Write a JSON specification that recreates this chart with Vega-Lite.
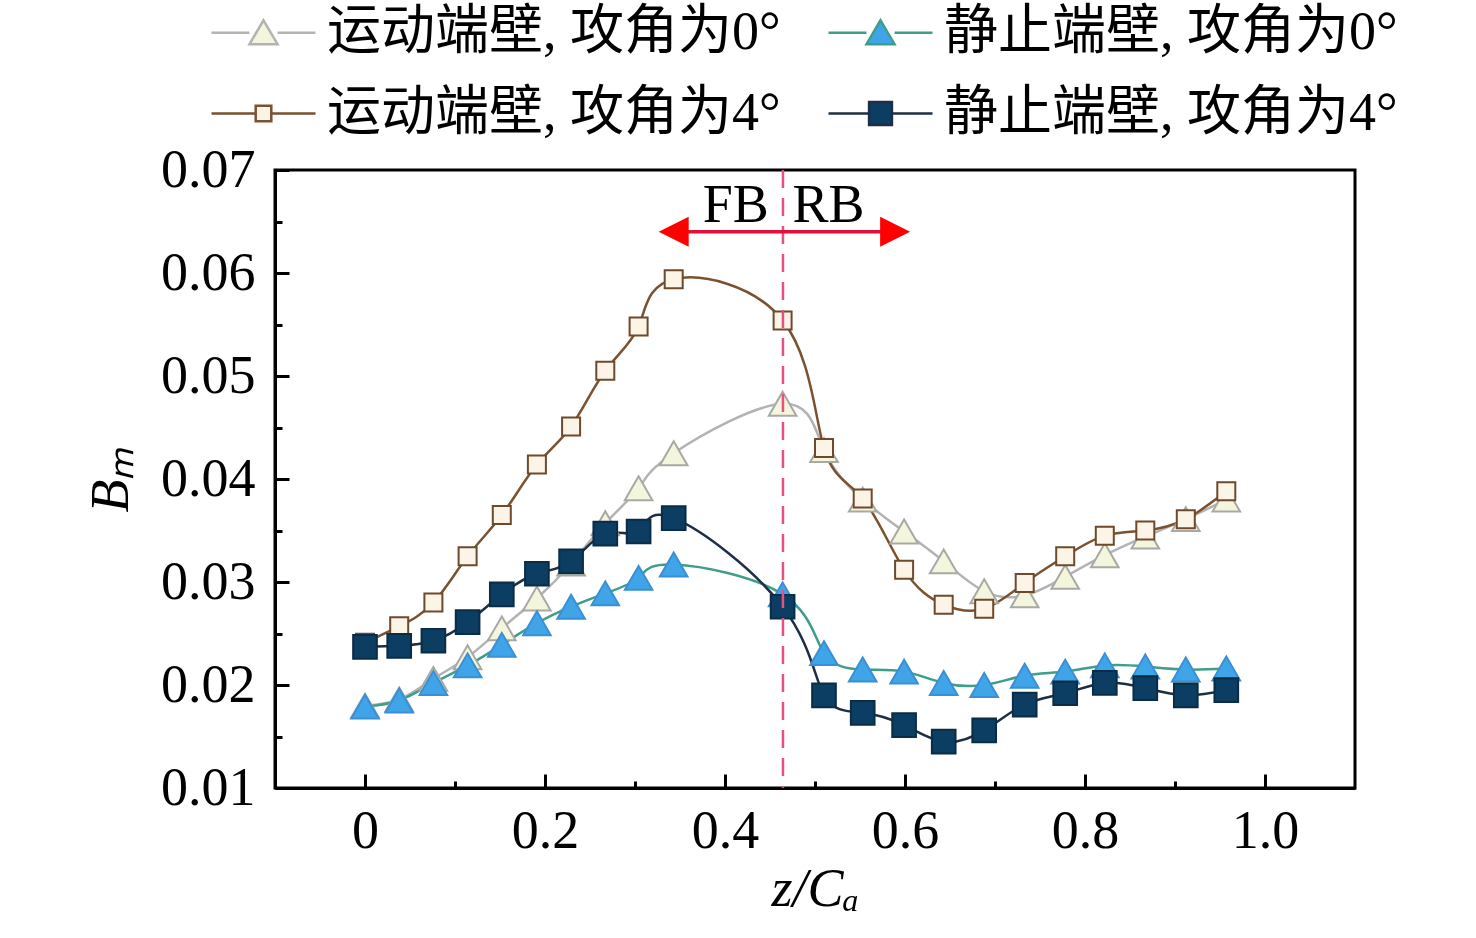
{
  "$schema": "https://vega.github.io/schema/vega-lite/v6.json",
  "width": 1080,
  "height": 618,
  "autosize": "none",
  "padding": {"left": 275, "top": 170, "right": 121, "bottom": 150},
  "background": "#ffffff",
  "datasets": {
    "pts": [
      {"s": "运动端壁, 攻角为0°", "x": 0, "y": 0.018},
      {"s": "运动端壁, 攻角为0°", "x": 0.038, "y": 0.0186},
      {"s": "运动端壁, 攻角为0°", "x": 0.076, "y": 0.0206},
      {"s": "运动端壁, 攻角为0°", "x": 0.114, "y": 0.0227},
      {"s": "运动端壁, 攻角为0°", "x": 0.152, "y": 0.0255},
      {"s": "运动端壁, 攻角为0°", "x": 0.191, "y": 0.0284},
      {"s": "运动端壁, 攻角为0°", "x": 0.229, "y": 0.0318},
      {"s": "运动端壁, 攻角为0°", "x": 0.267, "y": 0.0357},
      {"s": "运动端壁, 攻角为0°", "x": 0.304, "y": 0.0391},
      {"s": "运动端壁, 攻角为0°", "x": 0.343, "y": 0.0425},
      {"s": "运动端壁, 攻角为0°", "x": 0.464, "y": 0.0473},
      {"s": "运动端壁, 攻角为0°", "x": 0.51, "y": 0.0428},
      {"s": "运动端壁, 攻角为0°", "x": 0.553, "y": 0.038},
      {"s": "运动端壁, 攻角为0°", "x": 0.599, "y": 0.0349},
      {"s": "运动端壁, 攻角为0°", "x": 0.643, "y": 0.032},
      {"s": "运动端壁, 攻角为0°", "x": 0.688, "y": 0.0291},
      {"s": "运动端壁, 攻角为0°", "x": 0.733, "y": 0.0287},
      {"s": "运动端壁, 攻角为0°", "x": 0.778, "y": 0.0305},
      {"s": "运动端壁, 攻角为0°", "x": 0.822, "y": 0.0326},
      {"s": "运动端壁, 攻角为0°", "x": 0.867, "y": 0.0344},
      {"s": "运动端壁, 攻角为0°", "x": 0.912, "y": 0.0361},
      {"s": "运动端壁, 攻角为0°", "x": 0.957, "y": 0.038},
      {"s": "运动端壁, 攻角为4°", "x": 0, "y": 0.0241},
      {"s": "运动端壁, 攻角为4°", "x": 0.038, "y": 0.0257},
      {"s": "运动端壁, 攻角为4°", "x": 0.076, "y": 0.028},
      {"s": "运动端壁, 攻角为4°", "x": 0.114, "y": 0.0325},
      {"s": "运动端壁, 攻角为4°", "x": 0.152, "y": 0.0365},
      {"s": "运动端壁, 攻角为4°", "x": 0.191, "y": 0.0414},
      {"s": "运动端壁, 攻角为4°", "x": 0.229, "y": 0.0451},
      {"s": "运动端壁, 攻角为4°", "x": 0.267, "y": 0.0505},
      {"s": "运动端壁, 攻角为4°", "x": 0.304, "y": 0.0548},
      {"s": "运动端壁, 攻角为4°", "x": 0.343, "y": 0.0594},
      {"s": "运动端壁, 攻角为4°", "x": 0.464, "y": 0.0554},
      {"s": "运动端壁, 攻角为4°", "x": 0.51, "y": 0.043},
      {"s": "运动端壁, 攻角为4°", "x": 0.553, "y": 0.0381},
      {"s": "运动端壁, 攻角为4°", "x": 0.599, "y": 0.0312},
      {"s": "运动端壁, 攻角为4°", "x": 0.643, "y": 0.0278},
      {"s": "运动端壁, 攻角为4°", "x": 0.688, "y": 0.0274},
      {"s": "运动端壁, 攻角为4°", "x": 0.733, "y": 0.0299},
      {"s": "运动端壁, 攻角为4°", "x": 0.778, "y": 0.0325},
      {"s": "运动端壁, 攻角为4°", "x": 0.822, "y": 0.0345},
      {"s": "运动端壁, 攻角为4°", "x": 0.867, "y": 0.035},
      {"s": "运动端壁, 攻角为4°", "x": 0.912, "y": 0.0361},
      {"s": "运动端壁, 攻角为4°", "x": 0.957, "y": 0.0388},
      {"s": "静止端壁, 攻角为0°", "x": 0, "y": 0.0179},
      {"s": "静止端壁, 攻角为0°", "x": 0.038, "y": 0.0185},
      {"s": "静止端壁, 攻角为0°", "x": 0.076, "y": 0.0202},
      {"s": "静止端壁, 攻角为0°", "x": 0.114, "y": 0.0219},
      {"s": "静止端壁, 攻角为0°", "x": 0.152, "y": 0.0239},
      {"s": "静止端壁, 攻角为0°", "x": 0.191, "y": 0.026},
      {"s": "静止端壁, 攻角为0°", "x": 0.229, "y": 0.0276},
      {"s": "静止端壁, 攻角为0°", "x": 0.267, "y": 0.0289},
      {"s": "静止端壁, 攻角为0°", "x": 0.304, "y": 0.0304},
      {"s": "静止端壁, 攻角为0°", "x": 0.343, "y": 0.0317},
      {"s": "静止端壁, 攻角为0°", "x": 0.464, "y": 0.0288},
      {"s": "静止端壁, 攻角为0°", "x": 0.51, "y": 0.0231},
      {"s": "静止端壁, 攻角为0°", "x": 0.553, "y": 0.0215},
      {"s": "静止端壁, 攻角为0°", "x": 0.599, "y": 0.0213},
      {"s": "静止端壁, 攻角为0°", "x": 0.643, "y": 0.0202},
      {"s": "静止端壁, 攻角为0°", "x": 0.688, "y": 0.02},
      {"s": "静止端壁, 攻角为0°", "x": 0.733, "y": 0.0209},
      {"s": "静止端壁, 攻角为0°", "x": 0.778, "y": 0.0213},
      {"s": "静止端壁, 攻角为0°", "x": 0.822, "y": 0.0219},
      {"s": "静止端壁, 攻角为0°", "x": 0.867, "y": 0.0218},
      {"s": "静止端壁, 攻角为0°", "x": 0.912, "y": 0.0215},
      {"s": "静止端壁, 攻角为0°", "x": 0.957, "y": 0.0216},
      {"s": "静止端壁, 攻角为4°", "x": 0, "y": 0.0237},
      {"s": "静止端壁, 攻角为4°", "x": 0.038, "y": 0.0238},
      {"s": "静止端壁, 攻角为4°", "x": 0.076, "y": 0.0243},
      {"s": "静止端壁, 攻角为4°", "x": 0.114, "y": 0.0261},
      {"s": "静止端壁, 攻角为4°", "x": 0.152, "y": 0.0288},
      {"s": "静止端壁, 攻角为4°", "x": 0.191, "y": 0.0308},
      {"s": "静止端壁, 攻角为4°", "x": 0.229, "y": 0.032},
      {"s": "静止端壁, 攻角为4°", "x": 0.267, "y": 0.0347},
      {"s": "静止端壁, 攻角为4°", "x": 0.304, "y": 0.0349},
      {"s": "静止端壁, 攻角为4°", "x": 0.343, "y": 0.0362},
      {"s": "静止端壁, 攻角为4°", "x": 0.464, "y": 0.0276},
      {"s": "静止端壁, 攻角为4°", "x": 0.51, "y": 0.019},
      {"s": "静止端壁, 攻角为4°", "x": 0.553, "y": 0.0173},
      {"s": "静止端壁, 攻角为4°", "x": 0.599, "y": 0.0161},
      {"s": "静止端壁, 攻角为4°", "x": 0.643, "y": 0.0145},
      {"s": "静止端壁, 攻角为4°", "x": 0.688, "y": 0.0156},
      {"s": "静止端壁, 攻角为4°", "x": 0.733, "y": 0.0181},
      {"s": "静止端壁, 攻角为4°", "x": 0.778, "y": 0.0192},
      {"s": "静止端壁, 攻角为4°", "x": 0.822, "y": 0.0202},
      {"s": "静止端壁, 攻角为4°", "x": 0.867, "y": 0.0197},
      {"s": "静止端壁, 攻角为4°", "x": 0.912, "y": 0.019},
      {"s": "静止端壁, 攻角为4°", "x": 0.957, "y": 0.0195}
    ],
    "divider": [{"x": 0.4644}],
    "arrow": [{"x": 0.345, "x2": 0.587, "y": 0.064}],
    "heads": [
      {"x": 0.343, "y": 0.064, "d": "L"},
      {"x": 0.589, "y": 0.064, "d": "R"}
    ],
    "labels": [
      {"x": 0.412, "y": 0.065, "t": "FB"},
      {"x": 0.515, "y": 0.065, "t": "RB"}
    ]
  },
  "layer": [
    {
      "data": {"name": "pts"},
      "mark": {"type": "line", "interpolate": "natural", "strokeWidth": 2.5},
      "encoding": {
        "x": {
          "field": "x", "type": "quantitative",
          "scale": {"domain": [-0.1, 1.1], "nice": false, "zero": false},
          "axis": {
            "orient": "bottom", "values": [0, 0.2, 0.4, 0.6, 0.8, 1.0],
            "labelExpr": "datum.value == 0 ? '0' : format(datum.value, '.1f')",
            "tickSize": -14, "labelPadding": 30,
            "title": "z/Cₐ", "titlePadding": 4
          }
        },
        "y": {
          "field": "y", "type": "quantitative",
          "scale": {"domain": [0.01, 0.07], "nice": false, "zero": false},
          "axis": {
            "orient": "left", "values": [0.01, 0.02, 0.03, 0.04, 0.05, 0.06, 0.07],
            "format": ".2f", "tickSize": -14, "labelPadding": 34,
            "title": "Bₘ", "titlePadding": 22
          }
        },
        "color": {
          "field": "s", "type": "nominal",
          "scale": {
            "domain": ["运动端壁, 攻角为0°", "静止端壁, 攻角为0°", "运动端壁, 攻角为4°", "静止端壁, 攻角为4°"],
            "range": ["#b3b3b3", "#3f9e8a", "#7a5230", "#1c2f44"]
          },
          "legend": {"title": null, "values": ["运动端壁, 攻角为0°", "静止端壁, 攻角为0°", "运动端壁, 攻角为4°", "静止端壁, 攻角为4°"]}
        }
      }
    },
    {
      "data": {"name": "pts"},
      "transform": [{"filter": "datum.s === '运动端壁, 攻角为0°'"}],
      "mark": {"type": "point", "shape": "triangle-up", "filled": true, "fill": "#f3f5dc", "stroke": "#a9a9a4", "strokeWidth": 2, "size": 760, "opacity": 1},
      "encoding": {
        "x": {
          "field": "x", "type": "quantitative",
          "axis": {"orient": "bottom", "values": [0.1, 0.3, 0.5, 0.7, 0.9], "tickSize": -7, "labels": false, "domain": false, "title": null}
        },
        "y": {
          "field": "y", "type": "quantitative",
          "axis": {"orient": "left", "values": [0.015, 0.025, 0.035, 0.045, 0.055, 0.065], "tickSize": -7, "labels": false, "domain": false, "title": null}
        }
      }
    },
    {
      "data": {"name": "pts"},
      "transform": [{"filter": "datum.s === '运动端壁, 攻角为4°'"}],
      "mark": {"type": "point", "shape": "square", "filled": true, "fill": "#fdf4e8", "stroke": "#6e4a2c", "strokeWidth": 2, "size": 324, "opacity": 1},
      "encoding": {
        "x": {"field": "x", "type": "quantitative", "axis": null},
        "y": {"field": "y", "type": "quantitative", "axis": null}
      }
    },
    {
      "data": {"name": "pts"},
      "transform": [{"filter": "datum.s === '静止端壁, 攻角为0°'"}],
      "mark": {"type": "point", "shape": "triangle-up", "filled": true, "fill": "#3fa5e8", "stroke": "#3b8fd4", "strokeWidth": 2, "size": 760, "opacity": 1},
      "encoding": {
        "x": {"field": "x", "type": "quantitative", "axis": null},
        "y": {"field": "y", "type": "quantitative", "axis": null}
      }
    },
    {
      "data": {"name": "pts"},
      "transform": [{"filter": "datum.s === '静止端壁, 攻角为4°'"}],
      "mark": {"type": "point", "shape": "square", "filled": true, "fill": "#0c3d63", "stroke": "#0b2c45", "strokeWidth": 2, "size": 560, "opacity": 1},
      "encoding": {
        "x": {"field": "x", "type": "quantitative", "axis": null},
        "y": {"field": "y", "type": "quantitative", "axis": null}
      }
    },
    {
      "data": {"name": "pts"},
      "transform": [{"filter": "datum.x < -1"}],
      "mark": {"type": "point", "filled": false, "opacity": 1},
      "encoding": {
        "x": {"field": "x", "type": "quantitative", "axis": null},
        "y": {"field": "y", "type": "quantitative", "axis": null},
        "color": {
          "field": "s", "type": "nominal",
          "scale": {
            "domain": ["运动端壁, 攻角为0°", "静止端壁, 攻角为0°", "运动端壁, 攻角为4°", "静止端壁, 攻角为4°"],
            "range": ["#b3b3b3", "#3f9e8a", "#7a5230", "#1c2f44"]
          },
          "legend": {"title": null, "values": ["运动端壁, 攻角为0°", "静止端壁, 攻角为0°", "运动端壁, 攻角为4°", "静止端壁, 攻角为4°"]}
        },
        "fill": {
          "field": "s", "type": "nominal",
          "scale": {
            "domain": ["运动端壁, 攻角为0°", "静止端壁, 攻角为0°", "运动端壁, 攻角为4°", "静止端壁, 攻角为4°"],
            "range": ["#f3f5dc", "#3fa5e8", "#fdf4e8", "#0c3d63"]
          },
          "legend": {"title": null, "values": ["运动端壁, 攻角为0°", "静止端壁, 攻角为0°", "运动端壁, 攻角为4°", "静止端壁, 攻角为4°"]}
        },
        "shape": {
          "field": "s", "type": "nominal",
          "scale": {
            "domain": ["运动端壁, 攻角为0°", "静止端壁, 攻角为0°", "运动端壁, 攻角为4°", "静止端壁, 攻角为4°"],
            "range": [
              "M-1,0H-0.27M0.27,0H1M0,-0.24L0.27,0.22L-0.27,0.22Z",
              "M-1,0H-0.27M0.27,0H1M0,-0.24L0.27,0.22L-0.27,0.22Z",
              "M-1,0H-0.15M0.15,0H1M-0.15,-0.15H0.15V0.15H-0.15Z",
              "M-1,0H-0.22M0.22,0H1M-0.22,-0.22H0.22V0.22H-0.22Z"
            ]
          },
          "legend": {"title": null, "values": ["运动端壁, 攻角为0°", "静止端壁, 攻角为0°", "运动端壁, 攻角为4°", "静止端壁, 攻角为4°"]}
        }
      }
    },
    {
      "data": {"name": "divider"},
      "mark": {"type": "rule", "color": "#e8507f", "strokeWidth": 2.5, "strokeDash": [18, 10]},
      "encoding": {
        "x": {"field": "x", "type": "quantitative", "axis": null}
      }
    },
    {
      "data": {"name": "arrow"},
      "mark": {"type": "rule", "color": "#e0103a", "strokeWidth": 3.5},
      "encoding": {
        "x": {"field": "x", "type": "quantitative", "axis": null},
        "x2": {"field": "x2"},
        "y": {"field": "y", "type": "quantitative", "axis": null}
      }
    },
    {
      "data": {"name": "heads"},
      "transform": [{"filter": "datum.d == 'L'"}],
      "mark": {"type": "point", "filled": true, "opacity": 1, "color": "#ff0000", "size": 900, "shape": "M-1,0L1,-1L1,1Z"},
      "encoding": {
        "x": {"field": "x", "type": "quantitative", "axis": null},
        "y": {"field": "y", "type": "quantitative", "axis": null}
      }
    },
    {
      "data": {"name": "heads"},
      "transform": [{"filter": "datum.d == 'R'"}],
      "mark": {"type": "point", "filled": true, "opacity": 1, "color": "#ff0000", "size": 900, "shape": "M1,0L-1,-1L-1,1Z"},
      "encoding": {
        "x": {"field": "x", "type": "quantitative", "axis": null},
        "y": {"field": "y", "type": "quantitative", "axis": null}
      }
    },
    {
      "data": {"name": "labels"},
      "mark": {"type": "text", "font": "Liberation Serif", "fontSize": 54, "align": "center", "baseline": "alphabetic", "color": "black"},
      "encoding": {
        "x": {"field": "x", "type": "quantitative", "axis": null},
        "y": {"field": "y", "type": "quantitative", "axis": null},
        "text": {"field": "t"}
      }
    }
  ],
  "resolve": {"axis": {"x": "independent", "y": "independent"}},
  "config": {
    "font": "Liberation Serif",
    "view": {"stroke": "black", "strokeWidth": 3},
    "axis": {
      "grid": false,
      "domainColor": "black", "domainWidth": 3,
      "tickColor": "black", "tickWidth": 3,
      "labelFont": "Liberation Serif", "labelFontSize": 54, "labelColor": "black",
      "titleFont": "Liberation Serif", "titleFontSize": 54, "titleFontWeight": "normal",
      "titleFontStyle": "italic", "titleColor": "black"
    },
    "legend": {
      "orient": "none", "legendX": -65, "legendY": -191, "direction": "horizontal",
      "columns": 2, "columnPadding": 42, "rowPadding": -6,
      "padding": 0,
      "labelFont": "Liberation Serif, Noto Sans CJK SC", "labelFontSize": 54,
      "labelColor": "black", "labelOffset": 10, "labelLimit": 800,
      "symbolSize": 10816, "symbolStrokeWidth": 2.5, "symbolOpacity": 1
    }
  }
}
